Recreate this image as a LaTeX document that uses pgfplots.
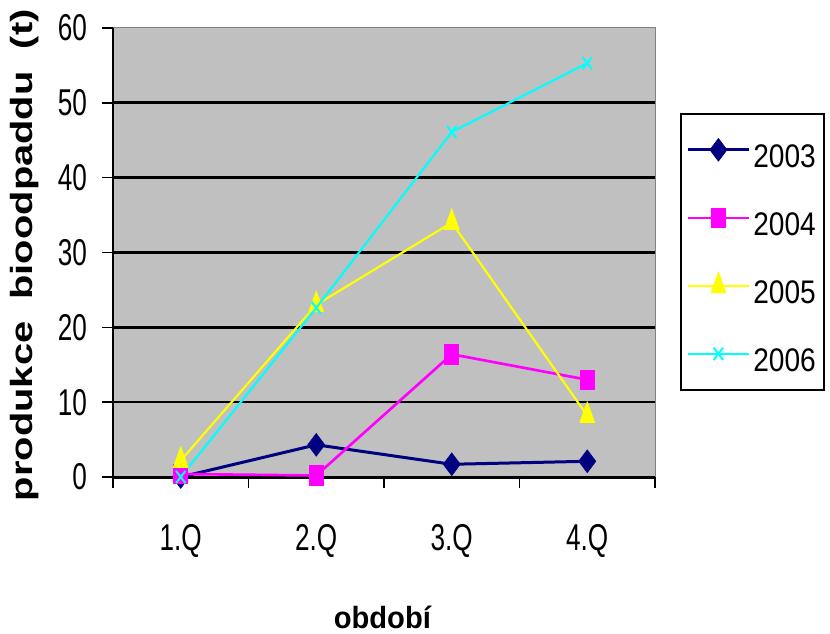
\documentclass[border=0pt]{standalone}
\usepackage{fontspec}
\setmainfont{Liberation Sans}
\newfontfamily\tickfont{Liberation Sans}[FakeStretch=0.7]
\newfontfamily\legfont{Liberation Sans}[FakeStretch=0.86]
\newfontfamily\xlabfont{Liberation Sans}[FakeStretch=0.95]
\newfontfamily\ylabfont{Liberation Sans}[FakeStretch=1.3]
\usepackage{pgfplots}
\pgfplotsset{compat=1.18}
\definecolor{plotgray}{HTML}{C0C0C0}
\definecolor{bordergray}{HTML}{808080}
\definecolor{navy}{HTML}{000080}
\definecolor{mag}{HTML}{FF00FF}
\definecolor{yel}{HTML}{FFFF00}
\definecolor{cya}{HTML}{00FFFF}
\begin{document}
\begin{tikzpicture}
\begin{axis}[
    scale only axis,
    width=406.5pt, height=336.75pt,
    xmin=0, xmax=4, ymin=0, ymax=60,
    axis x line*=bottom, axis y line*=left,
    x axis line style={-, line width=2.25pt},
    y axis line style={-, line width=1.5pt},
    axis background/.style={fill=plotgray, draw=bordergray, line width=0.75pt},
    clip=false,
    tick align=outside,
    major tick length=8pt,
    tick style={black, line width=1.2pt},
    xtick={0,1,2,3,4}, xticklabels={},
    extra x ticks={0.5,1.5,2.5,3.5},
    extra x tick labels={1.Q,2.Q,3.Q,4.Q},
    extra x tick style={major tick length=0pt},
    xticklabel style={anchor=center, yshift=-48pt},
    ytick={0,10,...,60},
    extra y ticks={10,20,30,40,50},
    extra y tick labels={},
    extra y tick style={grid=major},
    major grid style={black, line width=2pt},
    tick label style={font=\tickfont\fontsize{28}{32}\selectfont},
    /pgf/number format/assume math mode=true,
    yticklabel style={xshift=-8pt},
    xlabel={\xlabfont\bfseries období},
    xlabel style={font=\fontsize{23}{27}\selectfont, at={(axis description cs:0.497,0)}, anchor=center, yshift=-105pt},
    ylabel={\ylabfont\bfseries produkce\ \ bioodpaddu\ \ (t)},
    ylabel style={font=\fontsize{23}{27}\selectfont, at={(axis description cs:-0.1624,0.494)}, anchor=center},
    legend style={at={(rel axis cs:1.046,0.811)}, anchor=north west,
        draw=black, line width=1.5pt, fill=white, font=\legfont\fontsize{24.5}{28}\selectfont,
        inner xsep=4pt, inner ysep=10pt, row sep=17pt,
        nodes={text height=28pt, text depth=2pt, inner sep=2pt},
        legend cell align=left},
    legend image code/.code={\draw[mark repeat=2,mark phase=2,#1] plot coordinates {(0pt,0pt) (23pt,0pt) (46pt,0pt)};},
]
\addplot[navy, line width=2.25pt, mark=diamond*, mark size=8.5pt, mark options={solid, line width=0.5pt}]
coordinates {(0.5,0) (1.5,4.3) (2.5,1.7) (3.5,2.1)};
\addlegendentry{2003}
\addplot[mag, line width=2pt, mark=square*, mark size=5.25pt, mark options={solid, line width=0.5pt, yscale=1.4}]
coordinates {(0.5,0.4) (1.5,0.2) (2.5,16.4) (3.5,13.0)};
\addlegendentry{2004}
\addplot[yel, line width=1.6pt, mark=triangle*, mark size=6.5pt, mark options={solid, line width=0.5pt, yscale=1.6}]
coordinates {(0.5,2.2) (1.5,23.0) (2.5,34.0) (3.5,8.2)};
\addlegendentry{2005}
\addplot[cya, line width=1.6pt, mark=x, mark size=5pt, mark options={solid, line width=1.5pt, yscale=1.3}]
coordinates {(0.5,0) (1.5,22.6) (2.5,46.1) (3.5,55.3)};
\addlegendentry{2006}
\end{axis}
\pgfresetboundingbox
\path[use as bounding box] (-84.75pt,-117.75pt) rectangle (537.75pt,357.75pt);
\end{tikzpicture}
\end{document}
